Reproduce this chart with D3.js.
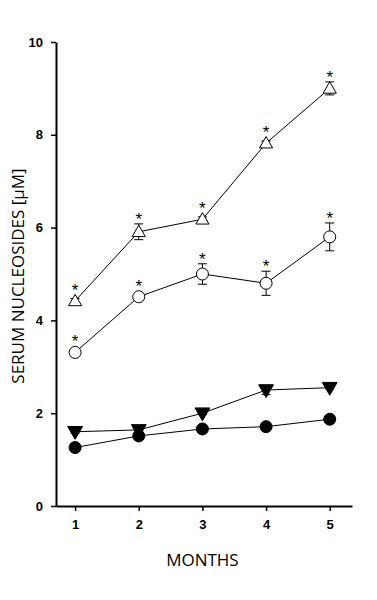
<!DOCTYPE html>
<html>
<head>
<meta charset="utf-8">
<script src="https://cdn.jsdelivr.net/npm/d3@7"></script>
<style>
  body { margin: 0; background: #fff; }
</style>
</head>
<body>
<div id="chart"></div>
<script>
const months = [1, 2, 3, 4, 5]
const yTicks = [0, 2, 4, 6, 8, 10]

// open triangles
const triUpVals = [4.42, 5.91, 6.18, 7.82, 9.0]
const triUpErr = [0.05, 0.17, 0.05, 0.05, 0.14]
const triUpStar = [true, true, true, true, true]
// open circles
const circOpenVals = [3.31, 4.51, 5.0, 4.8, 5.8]
const circOpenErr = [0.05, 0.05, 0.22, 0.26, 0.3]
const circOpenStar = [true, true, true, true, true]
// filled down triangles
const triDownVals = [1.6, 1.64, 2.0, 2.5, 2.55]
const triDownErr = [0.03, 0.03, 0.03, 0.1, 0.03]
// filled circles
const circFillVals = [1.26, 1.51, 1.66, 1.71, 1.87]
const circFillErr = [0.03, 0.03, 0.03, 0.03, 0.03]

const series = [
  {name: 'circFill', vals: circFillVals, err: circFillErr, star: null, shape: 'circle', fill: '#000'},
  {name: 'triDown', vals: triDownVals, err: triDownErr, star: null, shape: 'triDown', fill: '#000'},
  {name: 'circOpen', vals: circOpenVals, err: circOpenErr, star: circOpenStar, shape: 'circle', fill: '#fff'},
  {name: 'triUp', vals: triUpVals, err: triUpErr, star: triUpStar, shape: 'triUp', fill: '#fff'}
]

const width = 377, height = 600
const margin = {left: 56, top: 42, right: 25, bottom: 94}

const svg = d3.select('#chart').append('svg')
  .attr('width', width)
  .attr('height', height)

const xScale = d3.scaleLinear().domain([0.7, 5.35]).range([margin.left, width - margin.right])
const yScale = d3.scaleLinear().domain([0, 10]).range([height - margin.bottom, margin.top])

// Axes
const bAxis = svg.append('g')
  .attr('transform', `translate(0,${height - margin.bottom})`)
  .call(d3.axisBottom(xScale).tickValues(months).tickFormat(d3.format('d')).tickSize(5).tickSizeOuter(0).tickPadding(9))
const lAxis = svg.append('g')
  .attr('transform', `translate(${margin.left},0)`)
  .call(d3.axisLeft(yScale).tickValues(yTicks).tickFormat(d3.format('d')).tickSize(5).tickSizeOuter(0).tickPadding(8))

;[bAxis, lAxis].forEach(a => {
  a.select('.domain').attr('stroke', '#000').attr('stroke-width', 2)
  a.selectAll('.tick line').attr('stroke', '#000').attr('stroke-width', 1.5)
  a.selectAll('.tick text')
    .attr('fill', '#000')
    .style('font-family', '"Liberation Sans", Arial, sans-serif')
    .style('font-weight', 'bold')
    .style('font-size', '13px')
})

// Axis labels
svg.append('text')
  .attr('x', xScale(3))
  .attr('y', 566)
  .attr('text-anchor', 'middle')
  .style('font-family', '"Open Sans", sans-serif')
  .style('font-size', '17px')
  .text('MONTHS')

svg.append('text')
  .attr('transform', `translate(24,${276}) rotate(270)`)
  .attr('text-anchor', 'middle')
  .style('font-family', '"Open Sans", sans-serif')
  .style('font-size', '17px')
  .text('SERUM NUCLEOSIDES [µM]')

const line = d3.line()
  .x(d => xScale(d.m))
  .y(d => yScale(d.v))

const gLines = svg.append('g')
const gErr = svg.append('g')
const gPts = svg.append('g')
const gStars = svg.append('g')

const rad = 6
const triUpPath = d3.symbol().type(d3.symbolTriangle).size(75)()
const triDownPath = d3.symbol().type(d3.symbolTriangle).size(95)()

series.forEach(s => {
  const pts = months.map((m, i) => ({m: m, v: s.vals[i], e: s.err[i], star: s.star ? s.star[i] : false}))

  gLines.append('path')
    .datum(pts)
    .attr('d', line)
    .attr('fill', 'none')
    .attr('stroke', '#000')
    .attr('stroke-width', 1)

  // Error bars
  const eb = gErr.selectAll(`.err-${s.name}`)
    .data(pts)
    .join('g')
    .attr('class', `err-${s.name}`)
  eb.append('line')
    .attr('x1', d => xScale(d.m)).attr('x2', d => xScale(d.m))
    .attr('y1', d => yScale(d.v - d.e)).attr('y2', d => yScale(d.v + d.e))
    .attr('stroke', '#000').attr('stroke-width', 1)
  eb.selectAll('.cap')
    .data(d => [d.v - d.e, d.v + d.e].map(v => ({m: d.m, v: v})))
    .join('line')
    .attr('class', 'cap')
    .attr('x1', d => xScale(d.m) - 4.5).attr('x2', d => xScale(d.m) + 4.5)
    .attr('y1', d => yScale(d.v)).attr('y2', d => yScale(d.v))
    .attr('stroke', '#000').attr('stroke-width', 1)

  // Markers
  if (s.shape === 'circle') {
    gPts.selectAll(`.pt-${s.name}`)
      .data(pts)
      .join('circle')
      .attr('class', `pt-${s.name}`)
      .attr('cx', d => xScale(d.m))
      .attr('cy', d => yScale(d.v))
      .attr('r', rad)
      .attr('fill', s.fill)
      .attr('stroke', '#000')
      .attr('stroke-width', 1)
  } else {
    const p = s.shape === 'triUp' ? triUpPath : triDownPath
    gPts.selectAll(`.pt-${s.name}`)
      .data(pts)
      .join('path')
      .attr('class', `pt-${s.name}`)
      .attr('d', p)
      .attr('transform', d => `translate(${xScale(d.m)},${yScale(d.v) + (s.shape === 'triUp' ? 1 : -1)})` + (s.shape === 'triDown' ? ' rotate(180)' : ''))
      .attr('fill', s.fill)
      .attr('stroke', '#000')
      .attr('stroke-width', 1)
  }

  // Significance stars
  gStars.selectAll(`.star-${s.name}`)
    .data(pts.filter(d => d.star))
    .join('text')
    .attr('class', `star-${s.name}`)
    .attr('x', d => xScale(d.m))
    .attr('y', d => Math.min(yScale(d.v + d.e), yScale(d.v) - rad) + 1)
    .attr('text-anchor', 'middle')
    .style('font-family', '"Liberation Sans", Arial, sans-serif')
    .style('font-size', '17px')
    .text('*')
})
</script>
</body>
</html>
